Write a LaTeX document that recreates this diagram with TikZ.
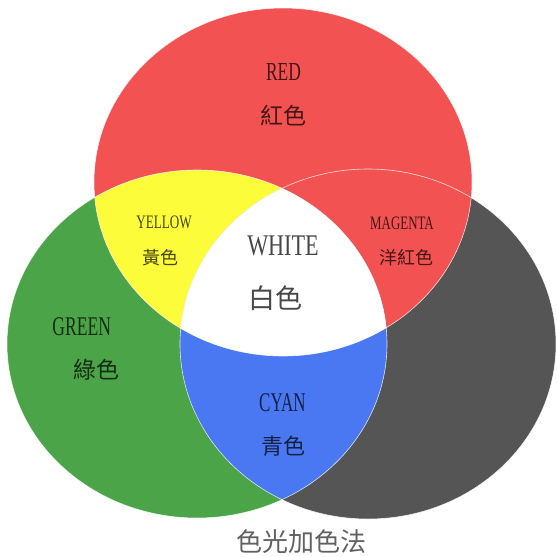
\documentclass[tikz,border=0pt]{standalone}
\usepackage{fontspec}
\usepackage{graphicx}
\setmainfont{Liberation Serif}
\newfontfamily\cjk{Noto Sans CJK TC}
\definecolor{cred}{RGB}{243,82,82}
\definecolor{cgreen}{RGB}{76,164,72}
\definecolor{cgray}{RGB}{85,85,85}
\definecolor{cyellow}{RGB}{252,252,58}
\definecolor{cblue}{RGB}{74,120,242}
\tikzset{
  lab/.style={inner sep=0pt, text=black, text opacity=0.72},
  ttl/.style={inner sep=0pt, text=black, text opacity=0.62},
  rim/.style={draw=white, line width=0.6pt, opacity=0.8}
}
\begin{document}
\begin{tikzpicture}[x=1pt,y=-1pt]
\useasboundingbox (0,0) rectangle (557,557);
\fill[white] (0,0) rectangle (557,557);
% base discs
\fill[cgreen] (197,344) ellipse [x radius=190, y radius=174];
\fill[cgray] (368,344) ellipse [x radius=188, y radius=175];
\fill[cred] (283,182) ellipse [x radius=189, y radius=174];
% yellow = red & green
\begin{scope}
  \clip (283,182) ellipse [x radius=189, y radius=174];
  \fill[cyellow] (197,344) ellipse [x radius=190, y radius=174];
\end{scope}
% cyan (drawn blue) = green & gray
\begin{scope}
  \clip (197,344) ellipse [x radius=190, y radius=174];
  \fill[cblue] (368,344) ellipse [x radius=188, y radius=175];
\end{scope}
% white = all three
\begin{scope}
  \clip (283,182) ellipse [x radius=189, y radius=174];
  \clip (197,344) ellipse [x radius=190, y radius=174];
  \fill[white] (368,344) ellipse [x radius=188, y radius=175];
\end{scope}
% faint light rims
\path[rim] (368,344) ellipse [x radius=188, y radius=175];
\path[rim] (283,182) ellipse [x radius=189, y radius=174];
\path[rim] (197,344) ellipse [x radius=190, y radius=174];
% labels
\node[lab] (redEn) at (283.5,72.5) {\fontsize{26}{26}\selectfont\scalebox{0.67}[1]{RED}};
\node[lab] (redZh) at (283,115.5) {\cjk\fontsize{23}{23}\selectfont 紅色};
\node[lab] (yelEn) at (164,222.8) {\fontsize{19}{19}\selectfont\scalebox{0.69}[1]{YELLOW}};
\node[lab] (yelZh) at (160,257.5) {\cjk\fontsize{18}{18}\selectfont 黃色};
\node[lab] (whiEn) at (283,246) {\fontsize{30}{30}\selectfont\scalebox{0.74}[1]{WHITE}};
\node[lab] (whiZh) at (275,298) {\cjk\fontsize{27}{27}\selectfont 白色};
\node[lab] (magEn) at (402,222.8) {\fontsize{19}{19}\selectfont\scalebox{0.68}[1]{MAGENTA}};
\node[lab] (magZh) at (406.5,257.5) {\cjk\fontsize{18}{18}\selectfont 洋紅色};
\node[lab] (greEn) at (81.7,326.8) {\fontsize{27}{27}\selectfont\scalebox{0.65}[1]{GREEN}};
\node[lab] (greZh) at (96,370) {\cjk\fontsize{23}{23}\selectfont 綠色};
\node[lab] (cyaEn) at (282.4,403) {\fontsize{27}{27}\selectfont\scalebox{0.63}[1]{CYAN}};
\node[lab] (cyaZh) at (283,445.8) {\cjk\fontsize{22}{22}\selectfont 青色};
\node[ttl] (title) at (301,541.7) {\cjk\fontsize{26}{26}\selectfont 色光加色法};
\end{tikzpicture}
\end{document}
